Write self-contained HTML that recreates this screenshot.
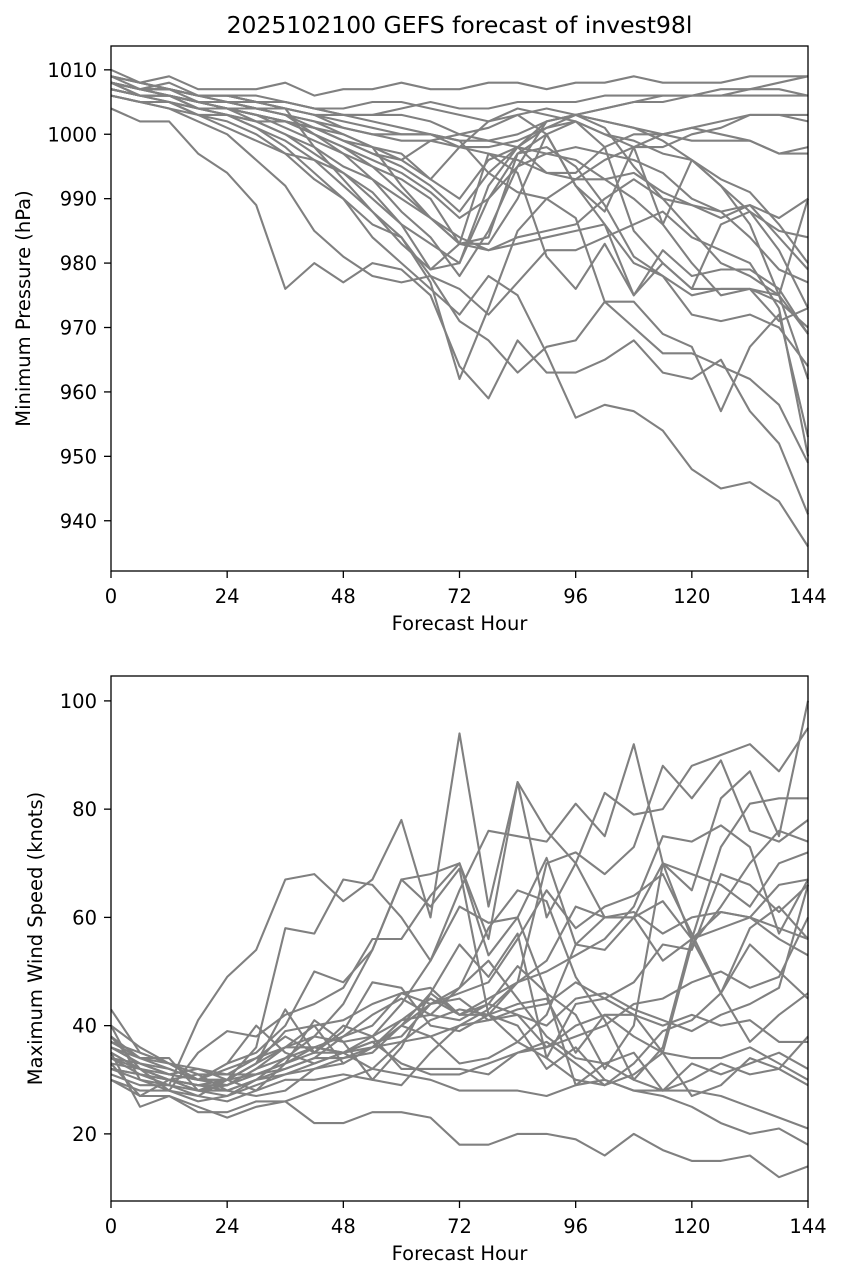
<!DOCTYPE html>
<html><head><meta charset="utf-8"><style>
body{margin:0;background:#fff;}
svg{display:block;font-family:"DejaVu Sans","Liberation Sans",sans-serif;}
</style></head><body>
<svg id="fig" width="843" height="1279" xmlns="http://www.w3.org/2000/svg"></svg>
<script>
const hours=[0,6,12,18,24,30,36,42,48,54,60,66,72,78,84,90,96,102,108,114,120,126,132,138,144];
const xTicks=[0,24,48,72,96,120,144];
const pTicks=[940,950,960,970,980,990,1000,1010];
const wTicks=[20,40,60,80,100];
const pressureSeries=[
[1008,1007,1008,1006,1006,1005,1004,1003,1002,1001,1000,1000,999,999,1000,1002,1003,1004,1005,1005,1006,1006,1007,1008,1009],
[1010,1008,1009,1007,1007,1007,1008,1006,1007,1007,1008,1007,1007,1008,1008,1007,1008,1008,1009,1008,1008,1008,1009,1009,1009],
[1007,1006,1006,1005,1005,1004,1003,1002,1001,1000,999,999,998,998,999,1001,1003,1004,1005,1006,1006,1006,1006,1006,1006],
[1009,1007,1007,1006,1006,1005,1004,998,993,988,984,978,976,972,977,982,982,984,986,988,984,982,980,973,950],
[1006,1005,1004,1002,1000,996,992,985,981,978,977,978,971,968,963,967,968,974,970,966,966,964,962,958,949],
[1004,1002,1002,997,994,989,976,980,977,980,979,975,964,959,968,963,963,965,968,963,962,965,957,952,941],
[1006,1005,1004,1003,1002,1000,997,993,990,986,984,977,962,973,985,990,987,974,974,969,967,957,967,972,953],
[1007,1006,1005,1004,1003,1001,998,994,990,984,980,976,972,978,975,966,956,958,957,954,948,945,946,943,936],
[1008,1007,1007,1005,1005,1004,1003,1000,998,995,991,987,983,983,990,1000,992,986,975,982,978,979,979,976,969],
[1008,1007,1006,1005,1004,1004,1003,1002,1000,998,996,993,990,996,998,1002,1003,1002,1001,999,996,992,988,985,984],
[1007,1006,1006,1005,1005,1004,1004,1003,1003,1002,1001,1000,998,997,996,994,993,993,994,991,989,988,989,987,990],
[1008,1007,1007,1006,1005,1005,1004,1003,1001,1000,1000,1000,999,994,991,990,993,996,998,1000,1001,1000,999,997,997],
[1009,1008,1007,1006,1006,1005,1005,1004,1004,1005,1005,1004,1003,1002,1004,1003,1002,1000,999,997,996,993,991,986,980],
[1007,1006,1006,1005,1004,1003,1001,999,997,995,993,990,983,984,997,1000,1002,998,985,980,976,976,976,971,973],
[1008,1007,1006,1004,1004,1002,1000,997,994,990,986,983,980,990,997,998,995,989,981,978,972,971,972,970,964],
[1009,1008,1007,1006,1005,1004,1003,1001,1000,998,992,987,984,982,983,984,985,986,980,978,975,976,976,974,970],
[1007,1006,1005,1004,1003,1002,1002,1001,999,997,995,992,988,994,998,1001,1002,1000,998,998,1000,1001,1003,1003,1002],
[1008,1006,1006,1004,1003,1002,1000,998,995,993,988,984,978,985,995,1002,1003,1001,995,990,989,987,989,984,979],
[1006,1005,1005,1003,1003,1001,999,996,992,988,983,979,980,992,998,994,994,998,1000,1000,1001,1002,1003,1003,1003],
[1008,1007,1006,1005,1004,1003,1002,1000,998,996,994,991,987,990,995,997,996,993,990,986,980,975,976,975,969],
[1009,1008,1007,1006,1006,1006,1005,1004,1003,1003,1003,1002,1000,999,998,997,998,997,996,994,990,988,984,979,977],
[1007,1006,1006,1005,1004,1003,1002,1001,999,997,996,999,1000,1001,1003,1004,1003,1002,1001,1000,999,999,999,997,998],
[1008,1007,1007,1006,1006,1005,1005,1004,1003,1003,1004,1005,1004,1004,1005,1005,1005,1006,1006,1006,1006,1007,1007,1007,1006],
[1006,1005,1005,1003,1001,999,997,996,994,991,986,979,983,997,994,981,976,983,975,980,976,986,988,982,973],
[1008,1006,1006,1004,1004,1003,1002,1001,999,998,997,993,998,1002,1003,1000,992,988,998,986,996,992,986,975,962],
[1007,1006,1006,1005,1004,1003,1002,1000,997,993,990,987,983,982,984,985,986,990,993,990,985,980,978,975,990]
];
const windSeries=[
[43,35,33,30,33,40,35,33,35,32,31,30,28,28,28,27,29,30,28,27,25,22,20,21,18],
[35,25,27,25,23,25,26,22,22,24,24,23,18,18,20,20,19,16,20,17,15,15,16,12,14],
[40,30,29,41,49,54,67,68,63,67,78,60,94,62,85,76,70,60,60,70,65,82,87,75,100],
[38,32,28,35,39,38,42,44,47,56,56,64,70,56,85,60,70,83,79,80,88,90,92,87,95],
[33,27,30,29,30,36,58,57,67,66,60,52,65,76,75,74,81,75,92,70,68,66,62,70,72],
[36,33,32,30,32,34,38,35,39,48,47,40,39,42,48,70,72,68,73,88,82,89,76,74,78],
[32,30,28,26,27,29,31,33,35,37,38,44,47,52,45,38,34,33,30,28,28,27,25,23,21],
[30,28,28,27,30,31,33,36,38,40,46,44,45,41,43,44,48,45,42,40,42,40,41,37,37],
[34,32,30,28,29,32,36,40,41,44,46,47,42,45,48,52,62,60,60,52,56,58,60,66,67],
[37,34,33,30,33,35,40,50,48,54,67,62,69,42,40,32,36,30,28,28,30,33,31,32,29],
[35,32,31,30,29,32,34,36,35,38,44,52,62,59,60,71,55,54,60,63,56,46,58,62,56],
[31,29,29,27,26,28,30,30,31,30,29,35,40,43,48,50,53,56,62,75,74,77,73,57,67],
[32,31,30,29,29,31,33,35,35,37,33,31,31,33,35,36,40,42,38,35,34,34,36,33,30],
[36,33,31,32,30,33,43,35,40,38,41,45,42,44,42,40,45,46,43,41,39,42,44,47,66],
[38,34,32,30,30,33,39,40,33,36,40,38,33,34,37,42,55,60,61,57,60,61,60,58,56],
[40,36,33,32,31,31,32,34,38,42,45,42,41,44,51,46,29,33,35,28,33,31,33,35,32],
[33,32,30,31,28,30,34,38,44,54,67,68,70,53,60,46,42,32,40,70,56,73,81,82,82],
[34,31,29,28,27,30,32,34,34,35,40,46,55,49,57,34,30,29,31,35,27,29,34,32,38],
[36,34,34,28,30,28,33,41,37,30,36,46,42,42,37,34,44,45,48,55,54,68,66,61,66],
[32,31,30,28,28,27,28,32,34,36,40,44,46,48,56,65,58,62,64,68,57,46,55,50,45],
[34,33,31,30,30,33,36,38,37,38,32,32,32,31,35,37,33,29,33,39,41,46,37,42,46],
[37,35,33,31,31,34,36,36,35,36,37,41,43,42,44,45,35,42,42,35,55,62,70,76,74],
[30,27,27,24,24,26,26,28,30,32,37,38,40,41,42,36,38,40,44,45,48,50,47,49,60],
[35,32,30,29,28,30,31,32,33,36,41,42,47,58,65,63,49,41,30,36,56,61,60,56,53]
];
const NS="http://www.w3.org/2000/svg";
const fig=document.getElementById('fig');
function mk(tag,attrs,parent){const e=document.createElementNS(NS,tag);for(const k in attrs)e.setAttribute(k,attrs[k]);(parent||fig).appendChild(e);return e;}
function panel(cfg){
  const L=111,R=808,T=cfg.top,B=cfg.top+525;
  const g=mk('g',{});
  
  
  const x=h=>L+(h-0)/(144-0)*(R-L);
  const y=v=>B-(v-cfg.min)/(cfg.max-cfg.min)*(B-T);
  const lines=mk('g',{},g);
  
  
  cfg.data.forEach((s,i)=>{
    const p=mk('polyline',{points:s.map((v,j)=>x(hours[j]).toFixed(1)+','+y(v).toFixed(1)).join(' '),fill:'none',stroke:'#808080','stroke-width':2.1,'stroke-linejoin':'round'},lines);
    
    
  });
  const fr=mk('rect',{x:L,y:T,width:R-L,height:B-T,fill:'none',stroke:'#000','stroke-width':1.3},g);
  
  
  xTicks.forEach(t=>{
    mk('line',{x1:x(t),x2:x(t),y1:B,y2:B+7,stroke:'#000','stroke-width':1.3},g);
    const tx=mk('text',{x:x(t),y:B+32,'text-anchor':'middle','font-size':19.5},g);
    tx.textContent=t;
    
    
  });
  cfg.ticks.forEach(t=>{
    mk('line',{x1:L-7,x2:L,y1:y(t),y2:y(t),stroke:'#000','stroke-width':1.3},g);
    const tx=mk('text',{x:L-14,y:y(t)+7,'text-anchor':'end','font-size':19.5},g);
    tx.textContent=t;
    
    
  });
  const xl=mk('text',{x:(L+R)/2,y:B+59,'text-anchor':'middle','font-size':19.5},g);
  xl.textContent='Forecast Hour';
  
  
  const yl=mk('text',{x:0,y:0,'text-anchor':'middle','font-size':19.5,transform:`translate(${cfg.ylx},${(T+B)/2}) rotate(-90)`},g);
  yl.textContent=cfg.ylabel;
  
  
}
const title=mk('text',{x:459.5,y:33,'text-anchor':'middle','font-size':23.5});
title.textContent='2025102100 GEFS forecast of invest98l';


panel({name:'pressure-panel',top:46,min:932.2,max:1013.7,ticks:pTicks,data:pressureSeries,ylabel:'Minimum Pressure (hPa)',ylx:30});
panel({name:'wind-panel',top:676,min:7.6,max:104.6,ticks:wTicks,data:windSeries,ylabel:'Maximum Wind Speed (knots)',ylx:42});
</script>
</body></html>
